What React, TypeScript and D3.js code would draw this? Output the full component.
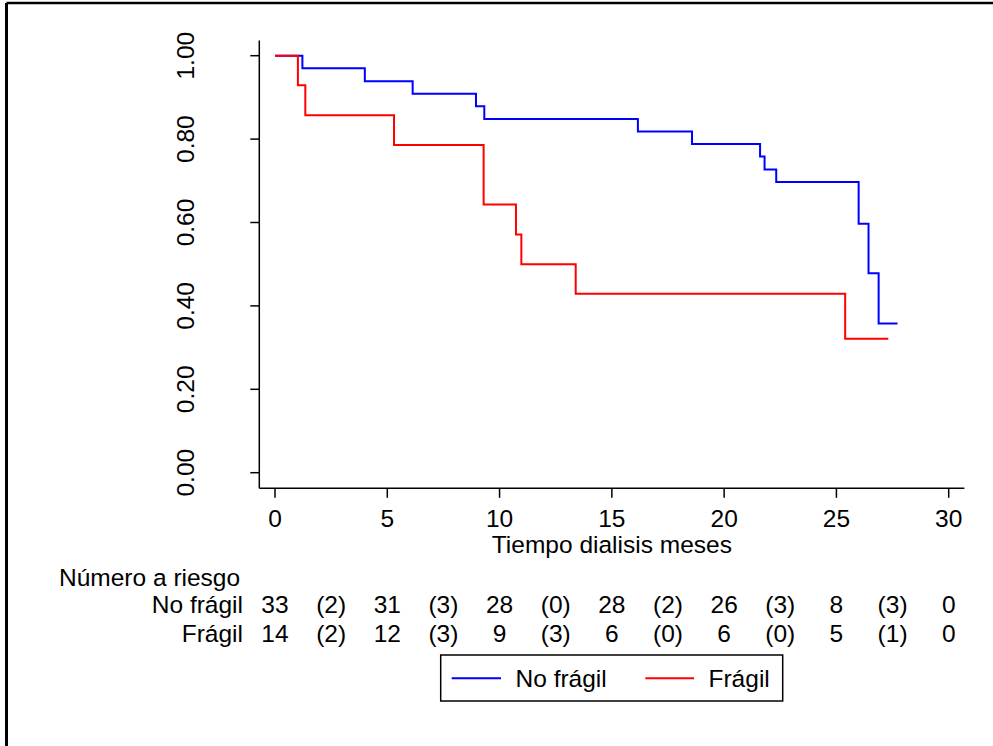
import React from "react";
import * as d3 from "d3";

const xTicks = [0, 5, 10, 15, 20, 25, 30];
const yTicks = [0, 0.2, 0.4, 0.6, 0.8, 1.0];

const noFragilTimes = [0, 1.22, 4.0, 6.13, 8.95, 9.32, 16.16, 18.57, 21.6, 21.8, 22.32, 25.99, 26.43, 26.88, 27.72];
const noFragilSurv = [1, 0.97, 0.939, 0.909, 0.879, 0.848, 0.818, 0.788, 0.758, 0.727, 0.697, 0.597, 0.478, 0.358, 0.358];

const fragilTimes = [0, 1.02, 1.35, 5.3, 9.29, 10.73, 10.97, 13.39, 25.39, 27.31];
const fragilSurv = [1, 0.929, 0.857, 0.786, 0.643, 0.571, 0.5, 0.429, 0.321, 0.321];

const riskTimes = [0, 5, 10, 15, 20, 25, 30];
const noFragilRisk = [33, 31, 28, 28, 26, 8, 0];
const noFragilCens = [2, 3, 0, 2, 3, 3];
const fragilRisk = [14, 12, 9, 6, 6, 5, 0];
const fragilCens = [2, 3, 3, 0, 0, 1];

const seriesNames = ["No frágil", "Frágil"];
const seriesColors = ["#0000ff", "#ff0000"];

const FONT = "'Liberation Sans', Arial, Helvetica, sans-serif";

export default function App() {
  const W = 993, H = 746;
  const x = d3.scaleLinear().domain([0, 30]).range([275, 948.7]);
  const y = d3.scaleLinear().domain([0, 1]).range([472.7, 55.7]);
  const xMin = x.invert(259.3), xMax = x.invert(964.4);
  const yTop = y.invert(40.5), yBot = y.invert(488.3);

  const line = d3
    .line<[number, number]>()
    .x((d) => x(d[0]))
    .y((d) => y(d[1]))
    .curve(d3.curveStepAfter);

  const blue = noFragilTimes.map((t, i) => [t, noFragilSurv[i]] as [number, number]);
  const red = fragilTimes.map((t, i) => [t, fragilSurv[i]] as [number, number]);

  const fs = 24.5;
  const rows = [
    { name: seriesNames[0], risk: noFragilRisk, cens: noFragilCens, yb: 612.5 },
    { name: seriesNames[1], risk: fragilRisk, cens: fragilCens, yb: 641.5 },
  ];

  return (
    <svg
      width={W}
      height={H}
      style={{ position: "absolute", left: 0, top: 0, background: "#fff" }}
      fontFamily={FONT}
    >
      <rect x={0} y={0} width={W} height={H} fill="#fff" />
      {/* frame (cropped) */}
      <line x1={6.5} y1={3} x2={W} y2={3} stroke="#000" strokeWidth={2.5} />
      <line x1={6.5} y1={3} x2={6.5} y2={H} stroke="#000" strokeWidth={3} />

      {/* y axis */}
      <line x1={x(xMin)} y1={y(yTop)} x2={x(xMin)} y2={y(yBot)} stroke="#000" strokeWidth={1.5} />
      {yTicks.map((t) => (
        <g key={t}>
          <line x1={x(xMin) - 9} x2={x(xMin)} y1={y(t)} y2={y(t)} stroke="#000" strokeWidth={1.5} />
          <text
            transform={`translate(193.5,${y(t)}) rotate(-90)`}
            textAnchor="middle"
            fontSize={fs}
            fill="#000"
          >
            {t.toFixed(2)}
          </text>
        </g>
      ))}

      {/* x axis */}
      <line x1={x(xMin)} y1={y(yBot)} x2={x(xMax)} y2={y(yBot)} stroke="#000" strokeWidth={1.5} />
      {xTicks.map((t) => (
        <g key={t}>
          <line x1={x(t)} x2={x(t)} y1={y(yBot)} y2={y(yBot) + 9.5} stroke="#000" strokeWidth={1.5} />
          <text x={x(t)} y={527} textAnchor="middle" fontSize={fs} fill="#000">
            {t}
          </text>
        </g>
      ))}
      <text x={(x(0) + x(30)) / 2} y={552.5} textAnchor="middle" fontSize={fs} fill="#000">
        Tiempo dialisis meses
      </text>

      {/* curves */}
      <path d={line(blue) || ""} fill="none" stroke={seriesColors[0]} strokeWidth={2} />
      <path d={line(red) || ""} fill="none" stroke={seriesColors[1]} strokeWidth={2} />

      {/* risk table */}
      <text x={59} y={585.5} fontSize={fs} fill="#000">
        Número a riesgo
      </text>
      {rows.map((r) => (
        <g key={r.name}>
          <text x={243} y={r.yb} textAnchor="end" fontSize={fs} fill="#000">
            {r.name}
          </text>
          {r.risk.map((v, i) => (
            <text key={"r" + i} x={x(riskTimes[i])} y={r.yb} textAnchor="middle" fontSize={fs} fill="#000">
              {v}
            </text>
          ))}
          {r.cens.map((v, i) => (
            <text
              key={"c" + i}
              x={x((riskTimes[i] + riskTimes[i + 1]) / 2)}
              y={r.yb}
              textAnchor="middle"
              fontSize={fs}
              fill="#000"
            >
              ({v})
            </text>
          ))}
        </g>
      ))}

      {/* legend */}
      <rect x={440.7} y={655} width={342} height={46} fill="#fff" stroke="#000" strokeWidth={1.5} />
      <line x1={451.7} x2={501} y1={678.3} y2={678.3} stroke={seriesColors[0]} strokeWidth={2} />
      <text x={515.5} y={687} fontSize={fs} fill="#000">
        {seriesNames[0]}
      </text>
      <line x1={645.3} x2={694} y1={678.3} y2={678.3} stroke={seriesColors[1]} strokeWidth={2} />
      <text x={708.5} y={687} fontSize={fs} fill="#000">
        {seriesNames[1]}
      </text>
    </svg>
  );
}
